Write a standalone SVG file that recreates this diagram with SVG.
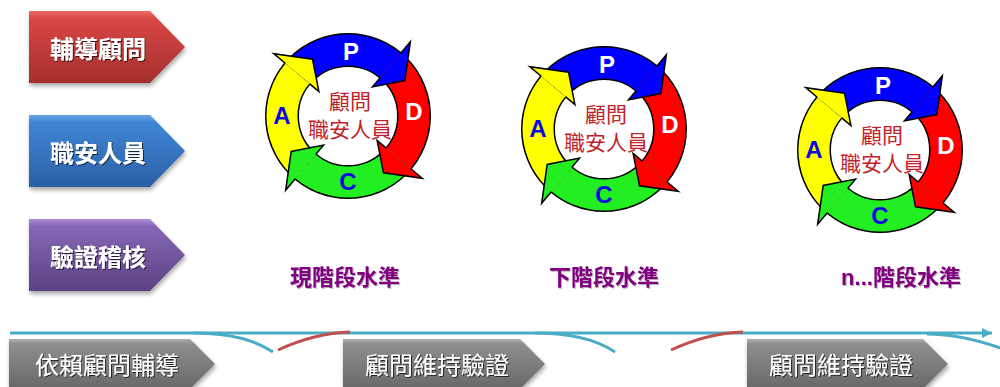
<svg xmlns="http://www.w3.org/2000/svg" width="1000" height="387" viewBox="0 0 1000 387">
<defs>
<style>
.lbl{font-family:"Noto Sans CJK TC","Noto Sans CJK SC",sans-serif;font-size:24px;font-weight:bold;fill:#fff;text-anchor:middle;dominant-baseline:central;filter:url(#tsh)}
.blbl{font-family:"Noto Sans CJK TC","Noto Sans CJK SC",sans-serif;font-size:24px;fill:#fff;text-anchor:middle;dominant-baseline:central;filter:url(#tsh)}
.stage{font-family:"Liberation Sans","Noto Sans CJK TC",sans-serif;font-size:22px;font-weight:bold;fill:#800080;text-anchor:middle;dominant-baseline:central;filter:url(#tsh2)}
.ctr{font-family:"Noto Sans CJK TC","Noto Sans CJK SC",sans-serif;font-size:21px;fill:#C0232B;text-anchor:middle;dominant-baseline:central}
.ltr{font-family:"Liberation Sans",Arial,sans-serif;font-size:24px;font-weight:bold;text-anchor:middle;dominant-baseline:central}
.w{fill:#fff}.b{fill:#0A0ADC}
.head{stroke:#000;stroke-width:1.5;stroke-linejoin:miter}
.tl{fill:none;stroke:#4BACC6;stroke-width:3}
.tr{fill:none;stroke:#C0504D;stroke-width:3}
</style>
<linearGradient id="gRed" x1="0" y1="0" x2="0" y2="1">
<stop offset="0" stop-color="#EE6C69"/><stop offset="0.1" stop-color="#D94845"/><stop offset="1" stop-color="#A52E2C"/>
</linearGradient>
<linearGradient id="gBlue" x1="0" y1="0" x2="0" y2="1">
<stop offset="0" stop-color="#68A6EA"/><stop offset="0.1" stop-color="#4086D4"/><stop offset="1" stop-color="#2A5FA6"/>
</linearGradient>
<linearGradient id="gPurple" x1="0" y1="0" x2="0" y2="1">
<stop offset="0" stop-color="#AC8CD8"/><stop offset="0.1" stop-color="#8667B5"/><stop offset="1" stop-color="#5C4184"/>
</linearGradient>
<linearGradient id="gGray" x1="0" y1="0" x2="0" y2="1">
<stop offset="0" stop-color="#B0B0B0"/><stop offset="0.1" stop-color="#8E8E8E"/><stop offset="1" stop-color="#686868"/>
</linearGradient>
<filter id="sh" x="-10%" y="-20%" width="130%" height="160%">
<feDropShadow dx="1" dy="3" stdDeviation="2" flood-color="#000" flood-opacity="0.35"/>
</filter>
<filter id="tsh" x="-10%" y="-20%" width="130%" height="160%">
<feDropShadow dx="1" dy="1" stdDeviation="0.7" flood-color="#000" flood-opacity="0.7"/>
</filter>
<filter id="tsh2" x="-10%" y="-20%" width="130%" height="160%">
<feDropShadow dx="1" dy="1" stdDeviation="0.6" flood-color="#000" flood-opacity="0.3"/>
</filter>
<marker id="arr" markerUnits="userSpaceOnUse" markerWidth="12" markerHeight="12" refX="10" refY="5" orient="auto">
<path d="M0,0 L10,5 L0,10 z" fill="#4BACC6"/>
</marker>
<g id="ring">
<circle r="66" fill="none" stroke="#000" stroke-width="34"/>
<g fill="none" stroke-width="31">
<path d="M-42.42,50.56 A66,66 0 0 1 -50.56,-42.42" stroke="#FFFF00"/>
<path d="M-50.56,-42.42 A66,66 0 0 1 42.42,-50.56" stroke="#0000FF"/>
<path d="M42.42,-50.56 A66,66 0 0 1 50.56,42.42" stroke="#FF0000"/>
<path d="M50.56,42.42 A66,66 0 0 1 -42.42,50.56" stroke="#22EE22"/>
</g>
<path class="head" fill="#0000FF" d="M52.71,-62.81 L62.35,-74.30 L56.82,-35.50 L24.43,-29.11 L32.14,-38.30"/>
<path class="head" fill="#FF0000" d="M62.81,52.71 L74.30,62.35 L35.50,56.82 L29.11,24.43 L38.30,32.14"/>
<path class="head" fill="#22EE22" d="M-52.71,62.81 L-62.35,74.30 L-56.82,35.50 L-24.43,29.11 L-32.14,38.30"/>
<path class="head" fill="#FFFF00" d="M-62.81,-52.71 L-74.30,-62.35 L-35.50,-56.82 L-29.11,-24.43 L-38.30,-32.14"/>
</g>
</defs>

<g id="connectors">
<path class="tl" d="M10,333 L992,333" marker-end="url(#arr)"/>
<path class="tl" d="M193,333 Q245,333 273,352"/>
<path class="tr" d="M278,350 Q315,333 350,332"/>
<path class="tl" d="M535,333 Q587,333 615,352"/>
<path class="tr" d="M671,350 Q708,333 743,332"/>
<path class="tl" d="M927,334 Q962,334 1003,349"/>
</g>

<g id="node-advisor">
<path d="M29,11 L150,11 L185,47 L150,83 L29,83 Z" fill="url(#gRed)" filter="url(#sh)"/>
<text class="lbl" x="98" y="47">輔導顧問</text>
</g>
<g id="node-safety">
<path d="M29,115 L150,115 L185,151 L150,187 L29,187 Z" fill="url(#gBlue)" filter="url(#sh)"/>
<text class="lbl" x="98" y="151">職安人員</text>
</g>
<g id="node-audit">
<path d="M29,219 L150,219 L185,255 L150,291 L29,291 Z" fill="url(#gPurple)" filter="url(#sh)"/>
<text class="lbl" x="98" y="255">驗證稽核</text>
</g>

<g id="node-pdca1" transform="translate(348,116)">
<use href="#ring"/>
<text class="ltr w" x="3" y="-65">P</text>
<text class="ltr w" x="66" y="-5">D</text>
<text class="ltr b" x="0" y="65">C</text>
<text class="ltr b" x="-66" y="-1">A</text>
<text class="ctr" x="2" y="-16">顧問</text>
<text class="ctr" x="2" y="12">職安人員</text>
</g>
<g id="node-pdca2" transform="translate(604,129)">
<use href="#ring"/>
<text class="ltr w" x="3" y="-65">P</text>
<text class="ltr w" x="66" y="-5">D</text>
<text class="ltr b" x="0" y="65">C</text>
<text class="ltr b" x="-66" y="-1">A</text>
<text class="ctr" x="2" y="-16">顧問</text>
<text class="ctr" x="2" y="12">職安人員</text>
</g>
<g id="node-pdca3" transform="translate(880,150)">
<use href="#ring"/>
<text class="ltr w" x="3" y="-65">P</text>
<text class="ltr w" x="66" y="-5">D</text>
<text class="ltr b" x="0" y="65">C</text>
<text class="ltr b" x="-66" y="-1">A</text>
<text class="ctr" x="2" y="-16">顧問</text>
<text class="ctr" x="2" y="12">職安人員</text>
</g>

<g id="node-stage1"><text class="stage" x="345" y="277">現階段水準</text></g>
<g id="node-stage2"><text class="stage" x="604" y="277">下階段水準</text></g>
<g id="node-stage3"><text class="stage" x="901" y="277">n...階段水準</text></g>

<g id="node-phase1">
<path d="M9,339 L190,339 L215,364 L190,389 L9,389 Z" fill="url(#gGray)" filter="url(#sh)"/>
<text class="blbl" x="107" y="363">依賴顧問輔導</text>
</g>
<g id="node-phase2">
<path d="M343,339 L520,339 L545,364 L520,389 L343,389 Z" fill="url(#gGray)" filter="url(#sh)"/>
<text class="blbl" x="437" y="363">顧問維持驗證</text>
</g>
<g id="node-phase3">
<path d="M747,339 L923,339 L948,364 L923,389 L747,389 Z" fill="url(#gGray)" filter="url(#sh)"/>
<text class="blbl" x="841" y="363">顧問維持驗證</text>
</g>
</svg>
